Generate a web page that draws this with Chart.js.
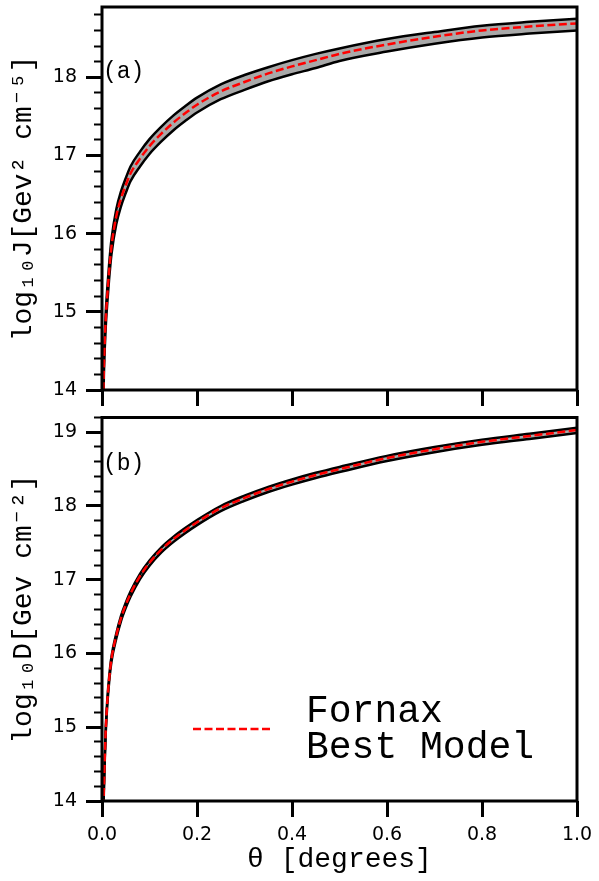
<!DOCTYPE html>
<html>
<head>
<meta charset="utf-8">
<script src="https://cdn.jsdelivr.net/npm/chart.js@4.4.0/dist/chart.umd.min.js"></script>
<style>
  html, body { margin: 0; padding: 0; background: #fff; }
  #wrap { position: relative; width: 599px; height: 881px; }
  #wrap canvas { position: absolute; left: 0; }
  #chartJ { top: 0; }
  #chartD { top: 410px; }
</style>
</head>
<body>
<div id="wrap">
  <canvas id="chartJ" width="599" height="410"></canvas>
  <canvas id="chartD" width="599" height="471"></canvas>
</div>
<script>
// angular radius (degrees)
var theta = [0.002, 0.004, 0.006, 0.008, 0.011, 0.015, 0.02, 0.03, 0.04, 0.05, 0.06, 0.08, 0.1, 0.125,
             0.15, 0.175, 0.2, 0.25, 0.3, 0.35, 0.4, 0.45, 0.5, 0.6, 0.7, 0.8, 0.9, 1.0];

// log10 J, best model and band edges
var logJ      = [13.70, 14.30, 14.66, 14.92, 15.20, 15.52, 15.84, 16.22, 16.45, 16.62, 16.77, 16.96, 17.12, 17.28,
                 17.42, 17.54, 17.65, 17.82, 17.94, 18.05, 18.14, 18.22, 18.30, 18.42, 18.52, 18.60, 18.65, 18.69];
var logJUpper = [13.79, 14.39, 14.75, 15.01, 15.29, 15.61, 15.93, 16.31, 16.54, 16.71, 16.86, 17.05, 17.21, 17.37,
                 17.51, 17.63, 17.74, 17.91, 18.03, 18.13, 18.22, 18.30, 18.37, 18.49, 18.58, 18.66, 18.71, 18.75];
var logJLower = [13.60, 14.20, 14.56, 14.82, 15.10, 15.42, 15.74, 16.12, 16.35, 16.52, 16.67, 16.86, 17.02, 17.18,
                 17.32, 17.44, 17.55, 17.72, 17.84, 17.95, 18.04, 18.12, 18.21, 18.33, 18.43, 18.51, 18.56, 18.60];

// log10 D, best model and band edges
var logD      = [13.60, 14.18, 14.62, 14.98, 15.33, 15.65, 15.93, 16.24, 16.48, 16.66, 16.81, 17.05, 17.23, 17.41,
                 17.55, 17.67, 17.78, 17.97, 18.11, 18.23, 18.33, 18.42, 18.50, 18.65, 18.77, 18.87, 18.95, 19.03];
var logDUpper = [13.63, 14.21, 14.65, 15.01, 15.36, 15.68, 15.96, 16.27, 16.51, 16.69, 16.84, 17.08, 17.26, 17.44,
                 17.58, 17.70, 17.81, 18.00, 18.14, 18.26, 18.36, 18.45, 18.53, 18.68, 18.80, 18.90, 18.98, 19.06];
var logDLower = [13.56, 14.14, 14.58, 14.94, 15.29, 15.61, 15.89, 16.20, 16.44, 16.62, 16.77, 17.01, 17.19, 17.37,
                 17.51, 17.63, 17.74, 17.93, 18.07, 18.19, 18.29, 18.38, 18.46, 18.61, 18.73, 18.83, 18.91, 18.99];

var xTicks = [0, 0.2, 0.4, 0.6, 0.8, 1.0];
var jTicks = [14, 15, 16, 17, 18];
var dTicks = [14, 15, 16, 17, 18, 19];
var legendLines = ['Fornax', 'Best Model'];

var mono = '"Liberation Mono", "DejaVu Sans Mono", monospace';
var tickFont = {family: '"DejaVu Sans", sans-serif', size: 19};
var titleFont = {family: mono, size: 28};

function toPoints(ys) {
    return theta.map(function (t, i) { return {x: t, y: ys[i]}; });
}

function fixedTicks(values) {
    return function (scale) {
        scale.ticks = values.map(function (v) { return {value: v}; });
    };
}

// black frame round the plot area
var framePlugin = {
    id: 'frame',
    afterDatasetsDraw: function (chart) {
        var a = chart.chartArea, ctx = chart.ctx;
        ctx.save();
        ctx.strokeStyle = '#000';
        ctx.lineWidth = 3;
        ctx.strokeRect(a.left, a.top, a.right - a.left, a.bottom - a.top);
        ctx.restore();
    }
};

function tagPlugin(text, baseline) {
    return {
        id: 'tag',
        afterDraw: function (chart) {
            var a = chart.chartArea, ctx = chart.ctx;
            ctx.save();
            ctx.fillStyle = '#000';
            ctx.font = '23px ' + mono;
            ctx.textBaseline = 'alphabetic';
            ctx.fillText(text, a.left + 1, a.top + baseline);
            ctx.restore();
        }
    };
}

var legendPlugin = {
    id: 'bestModelLegend',
    afterDraw: function (chart) {
        var ds = chart.data.datasets[0];
        var a = chart.chartArea, ctx = chart.ctx;
        var y = a.top + 311.5;
        ctx.save();
        ctx.strokeStyle = ds.borderColor;
        ctx.lineWidth = ds.borderWidth;
        ctx.setLineDash(ds.borderDash);
        ctx.beginPath();
        ctx.moveTo(a.left + 91, y);
        ctx.lineTo(a.left + 170, y);
        ctx.stroke();
        ctx.setLineDash([]);
        ctx.fillStyle = '#000';
        ctx.font = '38px ' + mono;
        ctx.textBaseline = 'alphabetic';
        ctx.fillText(legendLines[0], a.left + 204, y - 7);
        ctx.fillText(legendLines[1], a.left + 204, y + 29);
        ctx.restore();
    }
};

function panelConfig(mid, upper, lower, yTicks, yMax, yTitle, showX, extraPlugins) {
    var edge = {pointRadius: 0, borderWidth: 2.5, cubicInterpolationMode: 'monotone', yAxisID: 'y'};
    return {
        type: 'line',
        data: {
            datasets: [
                Object.assign({label: 'Fornax Best Model', data: toPoints(mid), borderColor: '#ff0000',
                               borderDash: [8, 3.5], fill: false}, edge),
                Object.assign({data: toPoints(upper), borderColor: '#000', backgroundColor: '#a9a9a9',
                               fill: '+1'}, edge),
                Object.assign({data: toPoints(lower), borderColor: '#000', fill: false}, edge)
            ]
        },
        options: {
            responsive: false,
            animation: false,
            events: [],
            layout: {padding: {top: showX ? 7.5 : 7, right: 22, left: 0, bottom: 0}},
            plugins: {
                legend: {display: false},
                tooltip: {enabled: false},
                filler: {drawTime: 'beforeDatasetsDraw'}
            },
            scales: {
                x: {
                    type: 'linear', min: 0, max: 1,
                    afterBuildTicks: fixedTicks(xTicks),
                    afterFit: function (s) {
                        s.height = showX ? 80 : 20;
                        s.paddingLeft = 0;
                        s.paddingRight = 0;
                    },
                    border: {display: false},
                    grid: {drawOnChartArea: false, drawTicks: true, tickLength: 16, tickWidth: 3, tickColor: '#000'},
                    ticks: {display: showX, font: tickFont, color: '#000', padding: 7, maxRotation: 0,
                            autoSkip: false, callback: function (v) { return v.toFixed(1); }},
                    title: {display: showX, text: 'θ [degrees]', font: titleFont, color: '#000',
                            padding: {top: 0, bottom: 5}}
                },
                y: {
                    type: 'linear', position: 'left', min: 14, max: yMax, weight: 1,
                    afterBuildTicks: fixedTicks(yTicks),
                    afterFit: function (s) {
                        s.width = 102;
                        s.paddingTop = 0;
                        s.paddingBottom = 0;
                    },
                    border: {display: false},
                    grid: {drawOnChartArea: false, drawTicks: true, tickLength: 16, tickWidth: 3, tickColor: '#000'},
                    ticks: {font: tickFont, color: '#000', padding: 9},
                    title: {display: true, text: yTitle, font: titleFont, color: '#000',
                            padding: {top: 7, bottom: 0}}
                },
                yMinor: {
                    type: 'linear', position: 'left', min: 14, max: yMax, weight: 0,
                    afterFit: function (s) { s.width = 0; },
                    border: {display: false},
                    grid: {drawOnChartArea: false, drawTicks: true, tickLength: 8, tickWidth: 2, tickColor: '#000'},
                    ticks: {display: false, stepSize: 0.2, includeBounds: false}
                }
            }
        },
        plugins: [framePlugin].concat(extraPlugins)
    };
}

new Chart(document.getElementById('chartJ'),
    panelConfig(logJ, logJUpper, logJLower, jTicks, 18.9, 'log₁₀J[Gev² cm⁻⁵]', false, [tagPlugin('(a)', 71)]));

new Chart(document.getElementById('chartD'),
    panelConfig(logD, logDUpper, logDLower, dTicks, 19.2, 'log₁₀D[Gev cm⁻²]', true,
                [tagPlugin('(b)', 52.5), legendPlugin]));
</script>
</body>
</html>
